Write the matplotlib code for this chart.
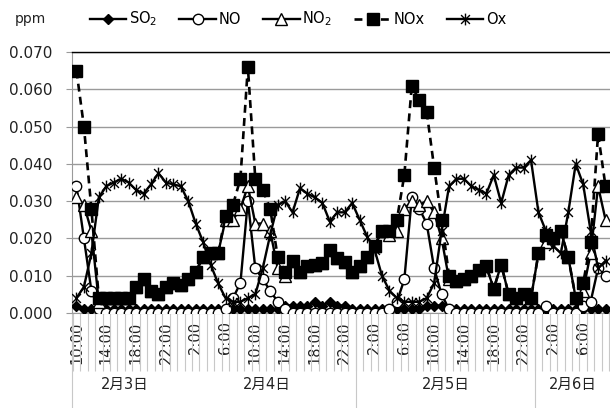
import numpy as np
import matplotlib.pyplot as plt
from matplotlib.path import Path
import matplotlib.transforms as mtransforms

plt.rcParams['font.family'] = ['DejaVu Sans', 'Noto Sans CJK JP']

# hourly data, 2/3 10:00 -> 2/6 9:00
hour_labels = ["10:00", "14:00", "18:00", "22:00", "2:00", "6:00"] * 3
date_labels = ["2月3日", "2月4日", "2月5日", "2月6日"]
date_start = [0, 14, 38, 62]   # index of first hour in each day

so2 = [0.002, 0.001, 0.001, 0.001, 0.001, 0.001, 0.001, 0.001, 0.001, 0.001,
       0.001, 0.001, 0.001, 0.001, 0.001, 0.001, 0.001, 0.001, 0.001, 0.001,
       0.001, 0.001, 0.001, 0.001, 0.001, 0.001, 0.001, 0.001, 0.002, 0.002,
       0.002, 0.002, 0.003, 0.002, 0.003, 0.002, 0.002, 0.001, 0.001, 0.001,
       0.001, 0.001, 0.001, 0.001, 0.001, 0.001, 0.001, 0.002, 0.002, 0.002,
       0.001, 0.001, 0.001, 0.001, 0.001, 0.001, 0.001, 0.001, 0.001, 0.001,
       0.001, 0.001, 0.001, 0.001, 0.001, 0.001, 0.001, 0.001, 0.001, 0.001,
       0.001, 0.001]

no = [0.034, 0.020, 0.006, 0.001, 0.000, 0.000, 0.000, 0.000, 0.000, 0.000,
      0.000, 0.000, 0.000, 0.000, 0.000, 0.000, 0.000, 0.000, 0.000, 0.000,
      0.001, 0.004, 0.008, 0.030, 0.012, 0.009, 0.006, 0.003, 0.001, 0.000,
      0.000, 0.000, 0.000, 0.000, 0.000, 0.000, 0.000, 0.000, 0.000, 0.000,
      0.000, 0.000, 0.001, 0.003, 0.009, 0.031, 0.028, 0.024, 0.012, 0.005,
      0.001, 0.000, 0.000, 0.000, 0.000, 0.000, 0.000, 0.000, 0.000, 0.000,
      0.000, 0.000, 0.000, 0.002, 0.000, 0.000, 0.000, 0.000, 0.002, 0.003,
      0.012, 0.010]

no2 = [0.031, 0.029, 0.022, 0.003, 0.004, 0.004, 0.004, 0.004, 0.007, 0.009,
       0.006, 0.005, 0.007, 0.008, 0.0075, 0.009, 0.011, 0.015, 0.016, 0.016,
       0.025, 0.025, 0.028, 0.034, 0.024, 0.024, 0.022, 0.012, 0.010, 0.014,
       0.011, 0.0125, 0.013, 0.0135, 0.017, 0.0147, 0.0138, 0.011, 0.0125, 0.015,
       0.018, 0.022, 0.021, 0.022, 0.028, 0.030, 0.029, 0.030, 0.027, 0.020,
       0.009, 0.0085, 0.009, 0.010, 0.0115, 0.0125, 0.0065, 0.013, 0.005, 0.004,
       0.005, 0.004, 0.016, 0.019, 0.020, 0.022, 0.015, 0.004, 0.006, 0.016,
       0.034, 0.025]

nox = [0.065, 0.050, 0.028, 0.004, 0.004, 0.004, 0.004, 0.004, 0.007, 0.009,
       0.006, 0.005, 0.007, 0.008, 0.0075, 0.009, 0.011, 0.015, 0.016, 0.016,
       0.026, 0.029, 0.036, 0.066, 0.036, 0.033, 0.028, 0.015, 0.011, 0.014,
       0.011, 0.0125, 0.013, 0.0135, 0.017, 0.0147, 0.0138, 0.011, 0.0125, 0.015,
       0.018, 0.022, 0.022, 0.025, 0.037, 0.061, 0.057, 0.054, 0.039, 0.025,
       0.010, 0.0085, 0.009, 0.010, 0.0115, 0.0125, 0.0065, 0.013, 0.005, 0.004,
       0.005, 0.004, 0.016, 0.021, 0.020, 0.022, 0.015, 0.004, 0.008, 0.019,
       0.048, 0.034]

ox = [0.004, 0.007, 0.016, 0.031, 0.034, 0.035, 0.036, 0.035, 0.033, 0.032,
      0.0345, 0.0375, 0.035, 0.0345, 0.034, 0.030, 0.024, 0.019, 0.013, 0.008,
      0.004, 0.003, 0.003, 0.004, 0.005, 0.012, 0.021, 0.029, 0.030, 0.027,
      0.0335, 0.032, 0.031, 0.0295, 0.0245, 0.027, 0.027, 0.0295, 0.025, 0.0205,
      0.017, 0.010, 0.006, 0.004, 0.003, 0.003, 0.003, 0.004, 0.008, 0.022,
      0.034, 0.036, 0.036, 0.034, 0.033, 0.032, 0.037, 0.0295, 0.037, 0.039,
      0.039, 0.041, 0.027, 0.022, 0.018, 0.016, 0.027, 0.040, 0.0345, 0.022,
      0.012, 0.014]

n = len(nox)
h = np.arange(n)
yticks = [0.000, 0.010, 0.020, 0.030, 0.040, 0.050, 0.060, 0.070]

# excel-like asterisk marker: vertical bar + X
star = Path([(0, -1), (0, 1), (-0.75, -0.75), (0.75, 0.75), (-0.75, 0.75), (0.75, -0.75)],
            [Path.MOVETO, Path.LINETO, Path.MOVETO, Path.LINETO, Path.MOVETO, Path.LINETO])

fig = plt.figure(figsize=(6.1, 4.08), dpi=100)
ax = fig.add_axes([72 / 610, 95 / 408, 538 / 610, 261 / 408])

lw = 1.7
ax.plot(h, so2, color="black", lw=lw, marker="D", ms=5.5, mfc="black", mec="black",
        label="SO$_2$", zorder=3)
ax.plot(h, no, color="black", lw=lw, marker="o", ms=7.5, mfc="white", mec="black",
        mew=1.0, label="NO", zorder=4)
ax.plot(h, no2, color="black", lw=lw, marker="^", ms=8, mfc="white", mec="black",
        mew=1.0, label="NO$_2$", zorder=5)
ax.plot(h, nox, color="black", lw=1.9, dashes=(3, 2), marker="s", ms=8, mfc="black",
        mec="black", label="NOx", zorder=6)
ax.plot(h, ox, color="black", lw=lw, marker=star, ms=8.5, mfc="none", mec="black",
        mew=1.0, label="Ox", zorder=7)

ax.set_ylim(0, 0.070)
ax.set_xlim(-0.6, n - 0.4)
ax.set_yticks(yticks)
ax.set_yticklabels([f"{v:.3f}" for v in yticks])
ax.yaxis.grid(True, color="#9a9a9a", lw=1.0)
ax.set_axisbelow(True)

ax.spines["right"].set_visible(False)
ax.spines["top"].set_color("black")
ax.spines["top"].set_linewidth(1.0)
ax.spines["left"].set_color("#9a9a9a")
ax.spines["bottom"].set_color("#9a9a9a")

# category labels every 4 hours, hourly tick lines below the axis
ax.set_xticks(h[::4])
ax.set_xticklabels(hour_labels[:len(h[::4])], rotation=90, va="top", ha="center")
ax.set_xticks(np.arange(n + 1) - 0.5, minor=True)
ax.tick_params(axis="x", which="major", length=0, pad=6, labelsize=10.5,
               labelcolor="#222222")
ax.tick_params(axis="x", which="minor", length=42, color="#c8c8c8", width=0.8)
ax.tick_params(axis="y", which="major", length=4, color="#9a9a9a", pad=10,
               labelsize=11, labelcolor="#222222")

trans = mtransforms.blended_transform_factory(ax.transData, ax.transAxes)
for k, d in enumerate(date_start):
    if k > 1:
        ax.plot([d - 0.5, d - 0.5], [0, -0.36], transform=trans, color="#c8c8c8",
                lw=0.8, clip_on=False)
    end = date_start[k + 1] - 0.5 if k + 1 < len(date_start) else n - 0.4
    ax.text((d - 0.5 + end) / 2, -0.275, date_labels[k], transform=trans,
            ha="center", va="center", fontsize=10.5, color="#222222")
ax.plot([-0.6, -0.6], [0, -0.36], transform=trans, color="#c8c8c8", lw=0.8,
        clip_on=False)

fig.text(30 / 610, 1 - 19 / 408, "ppm", ha="center", va="center", fontsize=10,
         color="#222222")
fig.legend(loc="center", bbox_to_anchor=(298 / 610, 1 - 19 / 408), ncol=5,
           frameon=False, fontsize=10.5, handlelength=2.5, handletextpad=0.2,
           columnspacing=1.5, borderaxespad=0)

fig.savefig("out.png", dpi=100)
